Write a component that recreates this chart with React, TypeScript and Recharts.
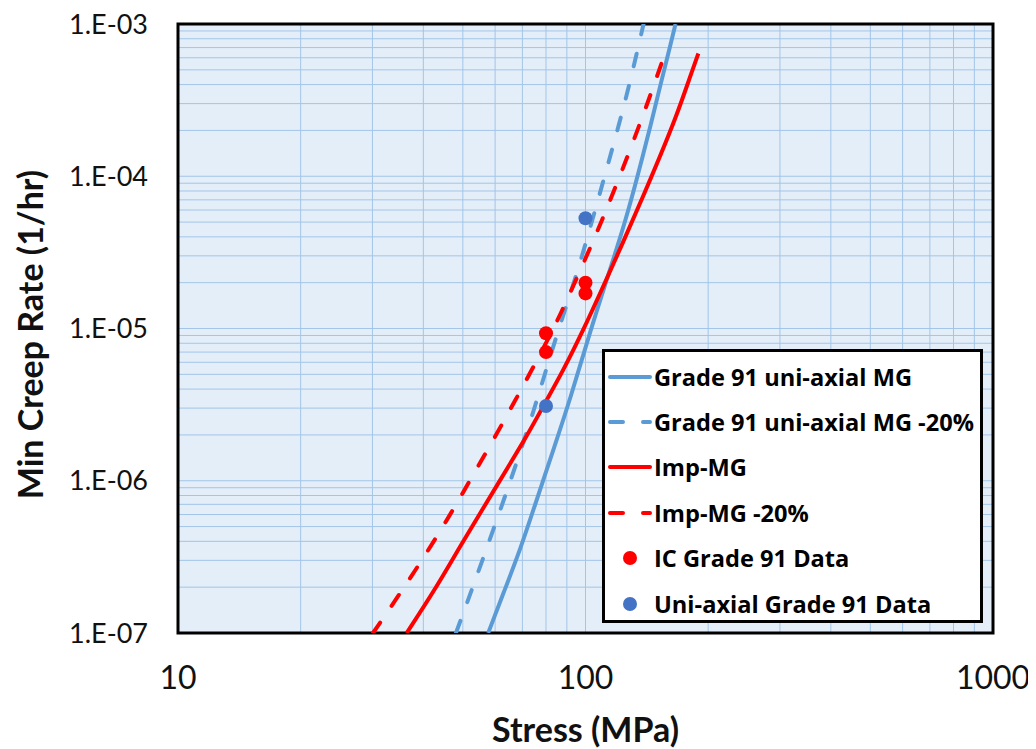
import React from 'react';
import {
  ComposedChart,
  Line,
  Scatter,
  XAxis,
  YAxis,
  CartesianGrid,
  ReferenceArea,
  Legend,
  Label,
} from 'recharts';

const FONT = 'Lato, "Open Sans", "DejaVu Sans", sans-serif';
const LEGEND_FONT = '"Open Sans", Lato, "DejaVu Sans", sans-serif';

// Axis grid values (log scales, major + minor)
const stressTicks = [10, 20, 30, 40, 50, 60, 70, 80, 90, 100, 200, 300, 400, 500, 600, 700, 800, 900, 1000];
const rateTicks = [
  1e-7, 2e-7, 3e-7, 4e-7, 5e-7, 6e-7, 7e-7, 8e-7, 9e-7,
  1e-6, 2e-6, 3e-6, 4e-6, 5e-6, 6e-6, 7e-6, 8e-6, 9e-6,
  1e-5, 2e-5, 3e-5, 4e-5, 5e-5, 6e-5, 7e-5, 8e-5, 9e-5,
  1e-4, 2e-4, 3e-4, 4e-4, 5e-4, 6e-4, 7e-4, 8e-4, 9e-4,
  1e-3,
];

// Grade 91 uni-axial MG
const mgStress = [57.7, 62.9, 69.1, 75.9, 78.7, 83.4, 91.6, 103.2, 111.7, 125.7, 134.2, 145.4, 152.4, 159.7, 166.3];
const mgRate = [1.0e-7, 1.83e-7, 3.5e-7, 7.5e-7, 1.0e-6, 1.6e-6, 3.4e-6, 1.0e-5, 1.93e-5, 5.2e-5, 1.0e-4, 2.3e-4, 3.9e-4, 6.4e-4, 1.0e-3];

// Grade 91 uni-axial MG -20%
const mg20Stress = [48.1, 55.1, 65.5, 74.5, 85.8, 95.1, 111.4, 126.2, 138.8];
const mg20Rate = [1.0e-7, 2.7e-7, 1.0e-6, 2.8e-6, 1.0e-5, 2.2e-5, 1.0e-4, 3.3e-4, 1.0e-3];

// Imp-MG
const impStress = [36.4, 43.1, 49.2, 61.6, 71.7, 78.8, 88.2, 99.2, 110.6, 121.5, 145.5, 167.5, 180.5, 189.2];
const impRate = [1.0e-7, 2.0e-7, 3.7e-7, 1.0e-6, 1.95e-6, 3.1e-6, 5.3e-6, 1.0e-5, 1.9e-5, 3.3e-5, 1.0e-4, 2.5e-4, 4.5e-4, 6.4e-4];

// Imp-MG -20%
const imp20Stress = [30.1, 36.4, 44.8, 52.0, 59.4, 71.7, 83.6, 91.6, 106.5, 121.5, 140.0, 156.7];
const imp20Rate = [1.0e-7, 2.1e-7, 5.0e-7, 1.0e-6, 1.85e-6, 4.6e-6, 1.0e-5, 1.7e-5, 4.2e-5, 1.0e-4, 2.7e-4, 6.4e-4];

// IC Grade 91 test data
const icStress = [80, 80, 100, 100];
const icRate = [9.3e-6, 7.0e-6, 2.0e-5, 1.7e-5];

// Uni-axial Grade 91 test data
const uniStress = [80, 100];
const uniRate = [3.1e-6, 5.3e-5];

const zip = (xs: number[], ys: number[]) => xs.map((s, i) => ({ s, r: ys[i] }));

const mgData = zip(mgStress, mgRate);
const mg20Data = zip(mg20Stress, mg20Rate);
const impData = zip(impStress, impRate);
const imp20Data = zip(imp20Stress, imp20Rate);
const icData = zip(icStress, icRate);
const uniData = zip(uniStress, uniRate);

const BLUE = '#5B9BD5';
const RED = '#FF0000';
const DOT_BLUE = '#4472C4';
const DASH = '13 20';

// Plot frame inside the chart (px)
const PLOT_TOP = 16;
const PLOT_HEIGHT = 609;

const isDecade = (v: number) => Math.abs(Math.log10(v) - Math.round(Math.log10(v))) < 1e-9;

const fmtStress = (v: number) => (isDecade(v) ? String(Math.round(v)) : '');
const fmtRate = (v: number) => {
  if (!isDecade(v)) return '';
  const e = Math.round(Math.log10(v));
  const abs = Math.abs(e);
  return `1.E${e < 0 ? '-' : '+'}${abs < 10 ? '0' : ''}${abs}`;
};

type LegendRow = { name: string; color: string; kind: 'solid' | 'dash' | 'dot' };
const legendRows: LegendRow[] = [
  { name: 'Grade 91 uni-axial MG', color: BLUE, kind: 'solid' },
  { name: 'Grade 91 uni-axial MG -20%', color: BLUE, kind: 'dash' },
  { name: 'Imp-MG', color: RED, kind: 'solid' },
  { name: 'Imp-MG -20%', color: RED, kind: 'dash' },
  { name: 'IC Grade 91 Data', color: RED, kind: 'dot' },
  { name: 'Uni-axial Grade 91 Data', color: DOT_BLUE, kind: 'dot' },
];

const LegendBox = () => (
  <div
    style={{
      width: 381,
      height: 274,
      boxSizing: 'border-box',
      border: '3px solid #000',
      background: '#fff',
      paddingTop: 2,
    }}
  >
    {legendRows.map((row) => (
      <div
        key={row.name}
        style={{ display: 'flex', alignItems: 'center', height: 45.4, whiteSpace: 'nowrap' }}
      >
        <svg width={49} height={20} style={{ flex: 'none' }}>
          {row.kind === 'dot' ? (
            <circle cx={25} cy={10} r={7} fill={row.color} />
          ) : (
            <line
              x1={5}
              x2={45}
              y1={10}
              y2={10}
              stroke={row.color}
              strokeWidth={4}
              strokeLinecap="round"
              strokeDasharray={row.kind === 'dash' ? '13 20' : undefined}
            />
          )}
        </svg>
        <span
          style={{
            fontFamily: LEGEND_FONT,
            fontWeight: 700,
            fontSize: 23.6,
            color: '#000',
          }}
        >
          {row.name}
        </span>
      </div>
    ))}
  </div>
);

const dot = (color: string) => (props: any) => (
  <circle cx={props.cx} cy={props.cy} r={7} fill={color} />
);

export default function App() {
  return (
    <ComposedChart
      width={1028}
      height={741}
      margin={{ top: PLOT_TOP, right: 43, bottom: 0, left: 0 }}
      style={{ fontFamily: FONT }}
    >
      <CartesianGrid fill="#E4EEF8" stroke="#A2C5E8" strokeWidth={1} />
      <XAxis
        dataKey="s"
        type="number"
        scale="log"
        domain={[10, 1000]}
        ticks={stressTicks}
        interval={0}
        allowDataOverflow
        tickFormatter={fmtStress}
        axisLine={false}
        tickLine={false}
        tickSize={0}
        tickMargin={33}
        height={116}
        tick={{ fontSize: 32, fill: '#111', fontFamily: FONT }}
      >
        <Label
          content={(p: any) => {
            const vb = p.viewBox || {};
            return (
              <text
                x={vb.x + vb.width / 2}
                y={734}
                textAnchor="middle"
                fontSize={34}
                fontWeight={700}
                fill="#111"
                fontFamily={FONT}
              >
                Stress (MPa)
              </text>
            );
          }}
        />
      </XAxis>
      <YAxis
        dataKey="r"
        type="number"
        scale="log"
        domain={[1e-7, 1e-3]}
        ticks={rateTicks}
        interval={0}
        allowDataOverflow
        tickFormatter={fmtRate}
        axisLine={false}
        tickLine={false}
        tickSize={0}
        tickMargin={30}
        width={170}
        tick={{ fontSize: 27, fill: '#111', fontFamily: FONT }}
      >
        <Label
          content={() => {
            const cy = PLOT_TOP + PLOT_HEIGHT / 2 + 6;
            return (
              <text
                x={21}
                y={cy}
                transform={`rotate(-90 21 ${cy})`}
                textAnchor="middle"
                dominantBaseline="central"
                fontSize={34}
                fontWeight={700}
                fill="#111"
                fontFamily={FONT}
              >
                Min Creep Rate (1/hr)
              </text>
            );
          }}
        />
      </YAxis>

      <Line data={mgData} dataKey="r" name="Grade 91 uni-axial MG" type="basis" stroke={BLUE} strokeWidth={4} dot={false} isAnimationActive={false} />
      <Line data={mg20Data} dataKey="r" name="Grade 91 uni-axial MG -20%" type="basis" stroke={BLUE} strokeWidth={4} strokeDasharray={DASH} strokeLinecap="round" dot={false} isAnimationActive={false} />
      <Line data={impData} dataKey="r" name="Imp-MG" type="basis" stroke={RED} strokeWidth={4} dot={false} isAnimationActive={false} />
      <Line data={imp20Data} dataKey="r" name="Imp-MG -20%" type="basis" stroke={RED} strokeWidth={4} strokeDasharray={DASH} strokeLinecap="round" dot={false} isAnimationActive={false} />
      <Scatter data={icData} dataKey="r" name="IC Grade 91 Data" fill={RED} shape={dot(RED)} isAnimationActive={false} />
      <Scatter data={uniData} dataKey="r" name="Uni-axial Grade 91 Data" fill={DOT_BLUE} shape={dot(DOT_BLUE)} isAnimationActive={false} />

      <ReferenceArea x1={10} x2={1000} y1={1e-7} y2={1e-3} fill="none" stroke="#000" strokeWidth={3} ifOverflow="visible" />

      <Legend
        layout="horizontal"
        verticalAlign="middle"
        align="center"
        content={() => <LegendBox />}
        wrapperStyle={{ position: 'absolute', left: 594, top: 341, width: 381, height: 274 }}
      />
    </ComposedChart>
  );
}
